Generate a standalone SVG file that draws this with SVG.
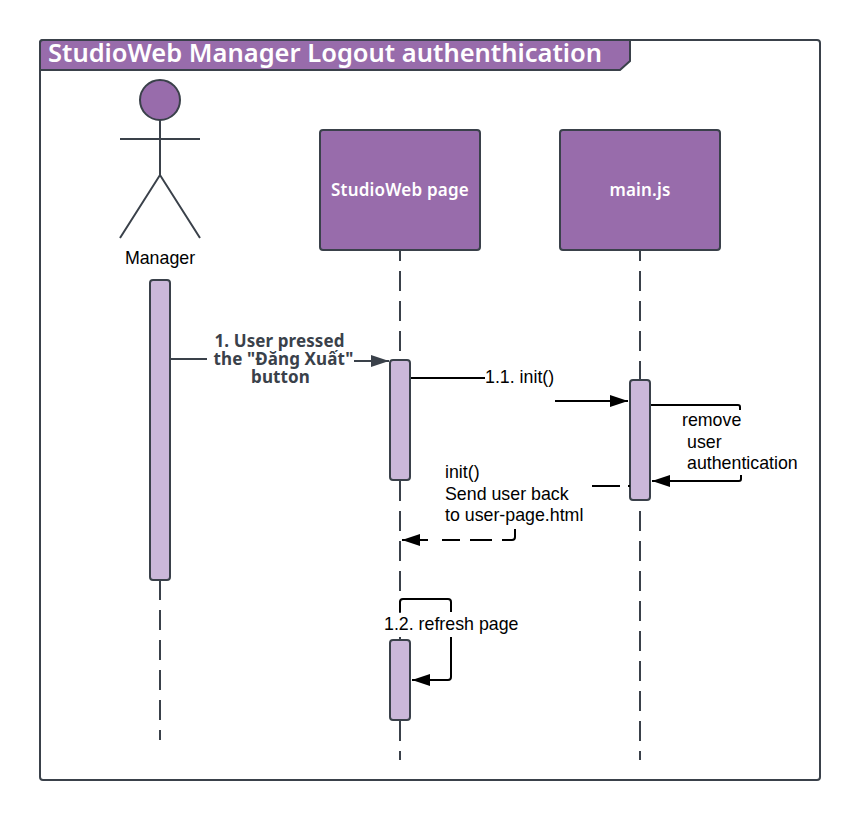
<svg xmlns="http://www.w3.org/2000/svg" width="860" height="820" viewBox="0 0 860 820">
<style>
.s{stroke:#3a414a;stroke-width:2}
.box{fill:#986cab;stroke:#3a414a;stroke-width:2}
.act{fill:#cbb8da;stroke:#3a414a;stroke-width:2}
.life{fill:none;stroke:#3a414a;stroke-width:2;stroke-dasharray:20 10}
.msg{fill:none;stroke:#000;stroke-width:2}
.t{font-family:"Liberation Sans",Arial,sans-serif;font-size:17.8px;fill:#000}
.h{font-family:"Noto Sans",sans-serif;font-weight:600;fill:#fff}
.m{font-family:"Noto Sans",sans-serif;font-weight:700;font-size:17px;letter-spacing:.1px;fill:#3a414a;text-anchor:middle}
</style>
<rect width="860" height="820" fill="#fff"/>
<g id="frame">
<rect x="40" y="40" width="780" height="740" rx="3" fill="#fff" stroke="#3a414a" stroke-width="2"/>
<path class="box" d="M40 70V43a3 3 0 0 1 3-3H630V61L620 70Z"/>
<text class="h" x="48" y="62" font-size="25.500">StudioWeb Manager Logout authenthication</text>
</g>
<g id="lifelines">
<path class="life" d="M160 580V740"/>
<path class="life" stroke-dashoffset="9" d="M400 250V760"/>
<path class="life" stroke-dashoffset="9" d="M640 250V760"/>
</g>
<g id="manager">
<circle class="box" cx="160" cy="100" r="20"/>
<path class="s" fill="none" d="M160 120V175M120 139H200M120 238L160 175L200 238"/>
<text class="t" x="160" y="263.600" text-anchor="middle">Manager</text>
</g>
<g id="studioweb"><rect class="box" x="320" y="130" width="160" height="120" rx="3"/>
<text class="h" x="400" y="196" font-size="17" letter-spacing=".2" text-anchor="middle">StudioWeb page</text></g>
<g id="mainjs"><rect class="box" x="560" y="130" width="160" height="120" rx="3"/>
<text class="h" x="640" y="196" font-size="17" letter-spacing=".2" text-anchor="middle">main.js</text></g>
<g id="activations">
<rect class="act" x="150" y="280" width="20" height="300" rx="3"/>
<rect class="act" x="390" y="360" width="20" height="120" rx="3"/>
<rect class="act" x="630" y="380" width="20" height="120" rx="3"/>
<rect class="act" x="390" y="640" width="20" height="80" rx="3"/>
</g>
<defs>
<marker id="a" markerWidth="18" markerHeight="12" refX="18" refY="6" orient="auto" markerUnits="userSpaceOnUse"><path d="M0 0L18 6L0 12Z" fill="#000"/></marker>
<marker id="b" markerWidth="18" markerHeight="12" refX="18" refY="6" orient="auto" markerUnits="userSpaceOnUse"><path d="M0 0L18 6L0 12Z" fill="#3a414a"/></marker>
</defs>
<g id="connectors">
<path class="s" fill="none" d="M171 359H207"/>
<path class="s" fill="none" d="M354 361H389" marker-end="url(#b)"/>
<path class="msg" d="M411 378H485"/>
<path class="msg" d="M555 401H628" marker-end="url(#a)"/>
<path class="msg" d="M651 405H738a2 2 0 0 1 2 2V410"/>
<path class="msg" d="M741 475V479a2 2 0 0 1-2 2H652" marker-end="url(#a)"/>
<path class="msg" d="M592 486H620M628 486H630"/>
<path class="msg" d="M515 529V537a3 3 0 0 1-3 3H502M492 540H470M460 540H442"/>
<path class="msg" d="M428 540H402" marker-end="url(#a)"/>
<path class="msg" d="M400 612V602a3 3 0 0 1 3-3H448a3 3 0 0 1 3 3V612"/>
<path class="msg" d="M451 637V677a3 3 0 0 1-3 3H412" marker-end="url(#a)"/>
</g>
<g id="labels">
<text class="m"><tspan x="279.500" y="347">1. User pressed</tspan><tspan x="283.500" y="365">the "Đăng Xuất"</tspan><tspan x="280.500" y="383">button</tspan></text>
<text class="t" x="485" y="382.600">1.1. init()</text>
<text class="t" x="682" y="425.600">remove</text>
<text class="t" x="687" y="447.600">user</text>
<text class="t" x="687" y="468.600">authentication</text>
<text class="t" x="445" y="477.600">init()</text>
<text class="t" x="445" y="499.600">Send user back</text>
<text class="t" x="445" y="520.600">to user-page.html</text>
<rect x="382" y="613" width="138" height="24" fill="#fff"/>
<text class="t" x="384" y="629.600">1.2. refresh page</text>
</g>
</svg>
